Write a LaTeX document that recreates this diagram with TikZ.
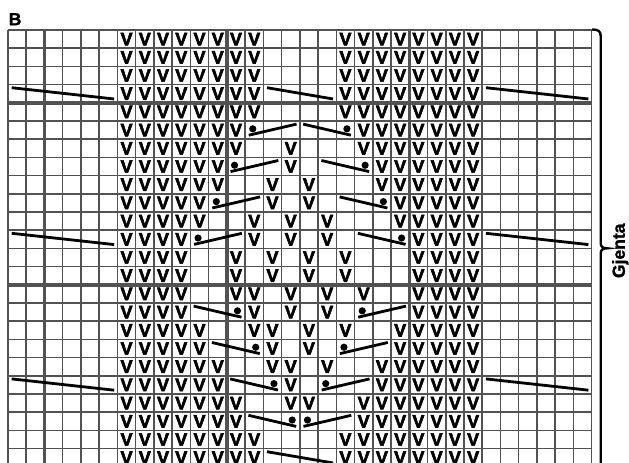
\documentclass[tikz,border=0pt]{standalone}
\usepackage{fontspec}
\setmainfont{Liberation Sans}
\newfontfamily\chvfont{Liberation Sans Bold}[FakeBold=3]
\newfontfamily\chlfont{Liberation Sans Bold}[FakeBold=1.5]
\definecolor{gridgray}{RGB}{82,82,82}
\newcommand\chX{8}
\newcommand\chY{30}
\newcommand\chW{18.24}
\newcommand\chH{18.2}
\newcommand\vrow[2]{\foreach \c in {#2}{\node[vst] (v-#1-\c) at ({\chX+(\c+0.5)*\chW},{\chY+(#1+0.5)*\chH}) {V};}}
\newcommand\chrise[2]{%
  \fill ({\chX+(#2+0.42)*\chW},{\chY+(#1+0.43)*\chH}) circle[radius=3.6pt];
  \draw[cable] ({\chX+(#2+0.2)*\chW},{\chY+(#1+0.78)*\chH}) -- ({\chX+(#2+2.82)*\chW},{\chY+(#1+0.17)*\chH});}
\newcommand\chfall[2]{%
  \fill ({\chX+(#2+2.58)*\chW},{\chY+(#1+0.43)*\chH}) circle[radius=3.6pt];
  \draw[cable] ({\chX+(#2+0.18)*\chW},{\chY+(#1+0.17)*\chH}) -- ({\chX+(#2+2.8)*\chW},{\chY+(#1+0.78)*\chH});}
\newcommand\chlong[3]{%
  \draw[cable] ({\chX+(#2+0.2)*\chW},{\chY+(#1+0.17)*\chH}) -- ({\chX+(#2+#3-0.18)*\chW},{\chY+(#1+0.79)*\chH});}
\begin{document}
\begin{tikzpicture}[x=1pt,y=-1pt,
  gridthin/.style={draw=gridgray, line width=1.5pt},
  gridthick/.style={draw=gridgray, line width=3.4pt},
  vst/.style={inner sep=0pt, font=\fontsize{18}{18}\chvfont},
  cable/.style={line width=2.8pt, black},
  brace/.style={line width=2.4pt, black},
  lbl/.style={inner sep=0pt, font=\fontsize{17.5}{17.5}\chlfont}]
\useasboundingbox (0,0) rectangle (629,463);
\clip (0,0) rectangle (629,463);
\fill[white] (0,0) rectangle (629,463);
% grid
\foreach \c in {0,...,32} \draw[gridthin] ({\chX+\c*\chW},{\chY}) -- ({\chX+\c*\chW},{\chY+24*\chH});
\foreach \r in {0,...,24} \draw[gridthin] ({\chX},{\chY+\r*\chH}) -- ({\chX+32*\chW},{\chY+\r*\chH});
\foreach \c in {2,12,22} \draw[gridthick] ({\chX+\c*\chW},{\chY}) -- ({\chX+\c*\chW},{\chY+24*\chH});
\foreach \r in {4,14} \draw[gridthick] ({\chX},{\chY+\r*\chH}) -- ({\chX+32*\chW},{\chY+\r*\chH});
% V stitches
\vrow{0}{6,7,8,9,10,11,12,13,18,19,20,21,22,23,24,25}
\vrow{1}{6,7,8,9,10,11,12,13,18,19,20,21,22,23,24,25}
\vrow{2}{6,7,8,9,10,11,12,13,18,19,20,21,22,23,24,25}
\vrow{3}{6,7,8,9,10,11,12,13,18,19,20,21,22,23,24,25}
\vrow{4}{6,7,8,9,10,11,12,13,18,19,20,21,22,23,24,25}
\vrow{5}{6,7,8,9,10,11,12,19,20,21,22,23,24,25}
\vrow{6}{6,7,8,9,10,11,12,15,19,20,21,22,23,24,25}
\vrow{7}{6,7,8,9,10,11,15,20,21,22,23,24,25}
\vrow{8}{6,7,8,9,10,11,14,16,20,21,22,23,24,25}
\vrow{9}{6,7,8,9,10,14,16,21,22,23,24,25}
\vrow{10}{6,7,8,9,10,13,15,17,21,22,23,24,25}
\vrow{11}{6,7,8,9,13,15,17,22,23,24,25}
\vrow{12}{6,7,8,9,12,14,16,18,22,23,24,25}
\vrow{13}{6,7,8,9,12,14,16,18,22,23,24,25}
\vrow{14}{6,7,8,9,12,13,15,17,19,22,23,24,25}
\vrow{15}{6,7,8,9,13,15,17,22,23,24,25}
\vrow{16}{6,7,8,9,10,13,14,16,18,21,22,23,24,25}
\vrow{17}{6,7,8,9,10,14,16,21,22,23,24,25}
\vrow{18}{6,7,8,9,10,11,14,15,17,20,21,22,23,24,25}
\vrow{19}{6,7,8,9,10,11,15,20,21,22,23,24,25}
\vrow{20}{6,7,8,9,10,11,12,15,16,19,20,21,22,23,24,25}
\vrow{21}{6,7,8,9,10,11,12,19,20,21,22,23,24,25}
\vrow{22}{6,7,8,9,10,11,12,13,18,19,20,21,22,23,24,25}
\vrow{23}{6,7,8,9,10,11,12,13,18,19,20,21,22,23,24,25}
% cable symbols, upper half
\chrise{5}{13}  \chfall{5}{16}
\chrise{7}{12}  \chfall{7}{17}
\chrise{9}{11}  \chfall{9}{18}
\chrise{11}{10} \chfall{11}{19}
% lower half
\chfall{15}{10} \chrise{15}{19}
\chfall{17}{11} \chrise{17}{18}
\chfall{19}{12} \chrise{19}{17}
\chfall{21}{13} \chrise{21}{16}
% long lines
\chlong{3}{0}{6} \chlong{3}{14}{4} \chlong{3}{26}{6}
\chlong{11}{0}{6} \chlong{11}{26}{6}
\chlong{19}{0}{6} \chlong{19}{26}{6}
\chlong{23}{14}{4}
% brace
\draw[brace] (592,29.5) .. controls (598,29.5) and (600.7,31) .. (600.7,36) -- (600.7,243)
  .. controls (600.7,246.5) and (602.5,248.3) .. (607,248.3)
  .. controls (602.5,248.3) and (600.7,250.1) .. (600.7,253.6) -- (600.7,475);
% labels
\node[lbl, anchor=base west] (title) at (8.6,25.2) {B};
\node[lbl, anchor=base, rotate=90] (repeatlabel) at (624.8,250.8) {Gjenta};
\end{tikzpicture}
\end{document}
